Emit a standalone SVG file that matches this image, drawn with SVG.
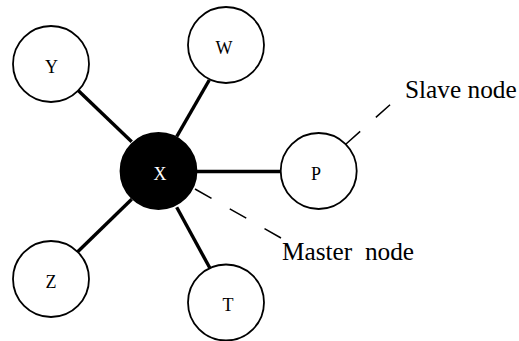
<svg xmlns="http://www.w3.org/2000/svg" width="519" height="341" viewBox="0 0 519 341">
  <style>
    .node { fill: #fff; stroke: #000; stroke-width: 1.8; }
    .master { fill: #000; stroke: #000; stroke-width: 1.8; }
    .lbl { font-family: "Liberation Serif", "Times New Roman", serif; font-size: 18px; text-anchor: middle; fill: #000; }
    .lbl-inv { fill: #fff; }
    .link { stroke: #000; stroke-width: 3.4; stroke-linecap: butt; fill: none; }
    .lead { stroke: #000; stroke-width: 1.5; stroke-dasharray: 19 21; fill: none; }
    .note { font-family: "Liberation Serif", "Times New Roman", serif; font-size: 25.3px; fill: #000; }
  </style>
  <rect width="519" height="341" fill="#fff"/>

  <!-- links between the master and its slaves -->
  <g id="connectors">
    <line class="link" x1="131.7" y1="141.7" x2="77.7" y2="90"/>
    <line class="link" x1="176.7" y1="136.7" x2="209.3" y2="80"/>
    <line class="link" x1="197" y1="171.5" x2="281" y2="171.5"/>
    <line class="link" x1="131.7" y1="199.3" x2="77.7" y2="251.7"/>
    <line class="link" x1="176.7" y1="207.3" x2="210" y2="268.3"/>
    <!-- annotation leaders -->
    <line class="lead" x1="346" y1="144" x2="392" y2="103"/>
    <line class="lead" x1="195" y1="189" x2="281" y2="238"/>
  </g>

  <g id="node-Y">
    <circle class="node" cx="51" cy="64" r="38"/>
    <text class="lbl" x="51.5" y="73">Y</text>
  </g>
  <g id="node-W">
    <circle class="node" cx="226" cy="45" r="38"/>
    <text class="lbl" x="224" y="54">W</text>
  </g>
  <g id="node-X">
    <circle class="master" cx="158.5" cy="171" r="38"/>
    <text class="lbl lbl-inv" x="160" y="180">X</text>
  </g>
  <g id="node-P">
    <circle class="node" cx="318.7" cy="171" r="38"/>
    <text class="lbl" x="316" y="180">P</text>
  </g>
  <g id="node-Z">
    <circle class="node" cx="51" cy="279" r="38"/>
    <text class="lbl" x="51" y="288">Z</text>
  </g>
  <g id="node-T">
    <circle class="node" cx="226" cy="302.5" r="38"/>
    <text class="lbl" x="228" y="311">T</text>
  </g>

  <g id="labels">
    <text class="note" x="405" y="98">Slave node</text>
    <text class="note" x="282" y="260" xml:space="preserve">Master  node</text>
  </g>
</svg>
